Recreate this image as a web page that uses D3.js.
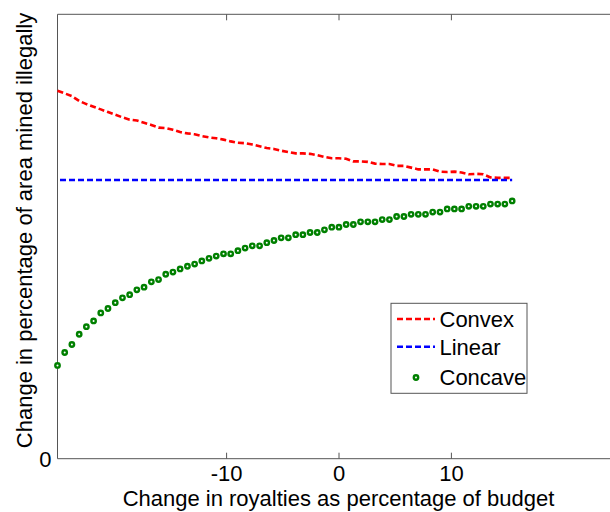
<!DOCTYPE html>
<html><head><meta charset="utf-8">
<script src="https://cdn.jsdelivr.net/npm/d3@7/dist/d3.min.js"></script>
<style>body{margin:0;background:#fff}svg{display:block}text{font-family:"Liberation Sans",Arial,sans-serif}</style>
</head><body>
<svg id="c" width="610" height="512"></svg>
<script>
const xValues = [-25.00,-24.36,-23.72,-23.07,-22.43,-21.79,-21.15,-20.51,-19.86,-19.22,-18.58,-17.94,-17.30,-16.65,-16.01,-15.37,-14.73,-14.09,-13.44,-12.80,-12.16,-11.52,-10.88,-10.23,-9.59,-8.95,-8.31,-7.67,-7.02,-6.38,-5.74,-5.10,-4.46,-3.81,-3.17,-2.53,-1.89,-1.25,-0.60,0.04,0.68,1.32,1.96,2.61,3.25,3.89,4.53,5.17,5.82,6.46,7.10,7.74,8.38,9.03,9.67,10.31,10.95,11.59,12.24,12.88,13.52,14.16,14.80,15.45];
const convex = [82.8,82.2,81.6,80.5,79.8,79.2,78.6,78.0,77.4,76.8,76.3,76.1,75.6,75.1,74.5,74.4,74.0,73.5,73.2,73.0,72.6,72.3,72.1,71.8,71.4,71.1,71.0,70.7,70.3,69.9,69.7,69.3,69.0,68.7,68.7,68.6,68.3,67.9,67.6,67.6,67.5,66.9,66.9,66.8,66.4,66.3,66.3,65.9,65.9,65.5,65.1,65.1,65.1,64.6,64.5,64.6,64.4,64.0,64.1,64.0,63.3,63.2,63.2,63.2];
const linearLevel = 62.7;
const concave = [21.0,23.9,25.7,28.0,29.7,31.0,32.8,33.8,35.1,36.2,36.9,38.0,38.6,39.8,40.3,41.5,42.0,42.7,43.3,43.8,44.5,45.1,45.6,46.1,46.1,46.8,47.4,47.9,47.9,48.6,49.1,49.7,49.7,50.4,50.4,50.9,50.9,51.5,52.1,52.1,52.7,52.7,53.3,53.3,53.3,53.8,53.8,54.5,54.5,55.0,55.0,55.0,55.5,55.5,56.2,56.2,56.2,56.8,56.8,56.8,57.3,57.3,57.3,58.0];
const xTicks = [-10, 0, 10];
const yTicks = [0];
const seriesNames = ["Convex", "Linear", "Concave"];
const xLabel = "Change in royalties as percentage of budget";
const yLabel = "Change in percentage of area mined illegally";

const svg = d3.select("#c");
const L = 57.5, T = 14.3, B = 458.7, R = 619.5;
const x = d3.scaleLinear().domain([-25, 25]).range([L, R]);
const y = d3.scaleLinear().domain([0, 100]).range([B, T]);
const axisColor = "#555";
const fs = 22;
const ff = '"Liberation Sans",Arial,sans-serif';

// frame
const g = svg.append("g");
g.append("line").attr("x1", L).attr("x2", 612).attr("y1", T).attr("y2", T).attr("stroke", axisColor);
g.append("line").attr("x1", L).attr("x2", 612).attr("y1", B).attr("y2", B).attr("stroke", axisColor);
g.append("line").attr("x1", L).attr("x2", L).attr("y1", T).attr("y2", B).attr("stroke", axisColor);

// x axis (bottom, inward ticks)
const xa = svg.append("g").attr("transform", `translate(0,${B})`)
  .call(d3.axisBottom(x).tickValues(xTicks).tickSize(-6).tickFormat(d3.format("d")));
xa.select(".domain").remove();
xa.selectAll(".tick line").attr("stroke", axisColor);
xa.selectAll(".tick text").attr("font-size", fs).attr("fill", "#000").attr("y", 6.4).attr("dy", "0.71em")
  .attr("font-family", ff).text(d => d < 0 ? "-" + Math.abs(d) : d);
// top ticks
const xt = svg.append("g").attr("transform", `translate(0,${T})`)
  .call(d3.axisTop(x).tickValues(xTicks).tickSize(-6).tickFormat(""));
xt.select(".domain").remove();
xt.selectAll(".tick line").attr("stroke", axisColor);

// y axis
const ya = svg.append("g").attr("transform", `translate(${L},0)`)
  .call(d3.axisLeft(y).tickValues(yTicks).tickSize(0).tickPadding(6));
ya.select(".domain").remove();
ya.selectAll(".tick text").attr("font-size", fs).attr("fill", "#000")
  .attr("font-family", ff).attr("dy", "0.35em");

// labels
svg.append("text").attr("x", x(0)).attr("y", 506).attr("text-anchor", "middle")
  .attr("font-size", fs).text(xLabel);
svg.append("text").attr("transform", `translate(32,${(T + B) / 2 - 6}) rotate(-90)`)
  .attr("text-anchor", "middle").attr("font-size", fs).text(yLabel);

// series
const line = d3.line().x((d, i) => x(xValues[i])).y(d => y(d));
svg.append("path").datum(convex).attr("d", line).attr("fill", "none")
  .attr("stroke", "#ff0000").attr("stroke-width", 2.6).attr("stroke-dasharray", "6,3");
svg.append("path").datum([linearLevel, linearLevel])
  .attr("d", d3.line().x((d, i) => x(i === 0 ? xValues[0] : xValues[xValues.length - 1]) + (i === 0 ? 2.5 : 0)).y(d => y(d)))
  .attr("fill", "none").attr("stroke", "#0000ff").attr("stroke-width", 2.6).attr("stroke-dasharray", "6,3");
svg.append("g").selectAll("circle").data(concave).join("circle")
  .attr("cx", (d, i) => x(xValues[i])).attr("cy", d => y(d)).attr("r", 2.2)
  .attr("fill", "#fff").attr("stroke", "#008000").attr("stroke-width", 2.4);

// legend
const lg = svg.append("g");
lg.append("rect").attr("x", 391).attr("y", 303.3).attr("width", 136).attr("height", 90)
  .attr("fill", "#fff").attr("stroke", axisColor);
const rows = [319, 346.7, 377.5];
lg.append("line").attr("x1", 397).attr("x2", 435).attr("y1", rows[0]).attr("y2", rows[0])
  .attr("stroke", "#ff0000").attr("stroke-width", 2.6).attr("stroke-dasharray", "6,3");
lg.append("line").attr("x1", 397).attr("x2", 435).attr("y1", rows[1]).attr("y2", rows[1])
  .attr("stroke", "#0000ff").attr("stroke-width", 2.6).attr("stroke-dasharray", "6,3");
lg.append("circle").attr("cx", 416).attr("cy", rows[2]).attr("r", 2.2)
  .attr("fill", "#fff").attr("stroke", "#008000").attr("stroke-width", 2.4);
seriesNames.forEach((n, i) => {
  lg.append("text").attr("x", 439.5).attr("y", rows[i]).attr("dy", "0.36em")
    .attr("font-size", fs).text(n);
});
</script>
</body></html>
